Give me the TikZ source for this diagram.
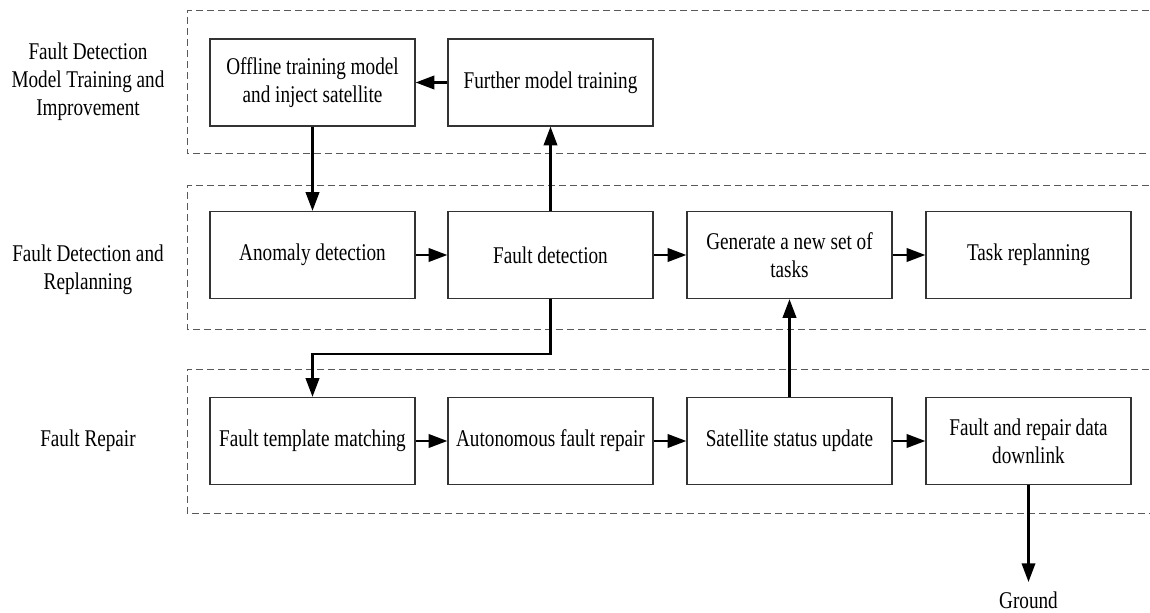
\documentclass[tikz,border=0pt]{standalone}
\usepackage{fontspec}
\setmainfont[FakeStretch=0.8]{Liberation Serif}
\usetikzlibrary{arrows.meta}

\tikzset{
  stage/.style={draw=black!80, line width=0.9pt, minimum width=153.75pt,
    minimum height=65.25pt, align=center, inner sep=2pt,
    font=\fontsize{18}{21}\selectfont},
  lane/.style={draw=black!65, line width=0.75pt, dash pattern=on 5.25pt off 3pt},
  lanelabel/.style={align=center, font=\fontsize{18}{21}\selectfont},
  arr/.style={line width=1.9pt, -{Triangle[length=14pt, width=10pt]}}
}

\begin{document}
\begin{tikzpicture}[x=0.75pt, y=-0.75pt]
  \useasboundingbox (0,0) rectangle (1150,613);

  % swim lanes (open at the right border)
  \draw[lane] (1160,11) -- (187,11) -- (187,154) -- (1160,154);
  \draw[lane] (1160,186) -- (187,186) -- (187,329) -- (1160,329);
  \draw[lane] (1160,369) -- (187,369) -- (187,513) -- (1160,513);

  % lane titles
  \node[lanelabel] (l1) at (88,82) {Fault Detection\\Model Training and\\Improvement};
  \node[lanelabel] (l2) at (88,270) {Fault Detection and\\Replanning};
  \node[lanelabel] (l3) at (88,441) {Fault Repair};

  % training lane
  \node[stage] (off) at (312.5,82.5) {Offline training model\\and inject satellite};
  \node[stage] (fur) at (550.5,82.5) {Further model training};

  % detection lane
  \node[stage] (ano) at (312.5,255) {Anomaly detection};
  \node[stage] (fd)  at (550.5,255) {Fault detection};
  \node[stage] (gen) at (789.5,255) {Generate a new set of\\tasks};
  \node[stage] (tr)  at (1028.5,255) {Task replanning};

  % repair lane
  \node[stage] (ftm) at (312.5,441) {Fault template matching};
  \node[stage] (afr) at (550.5,441) {Autonomous fault repair};
  \node[stage] (ssu) at (789.5,441) {Satellite status update};
  \node[stage] (fdl) at (1028.5,441) {Fault and repair data\\downlink};

  \node[anchor=north, inner xsep=2pt, inner ysep=7pt,
        font=\fontsize{18}{21}\selectfont] (gnd) at (1028.5,582) {Ground};

  % flow
  \draw[arr] (fur) -- (off);
  \draw[arr] (off) -- (ano);
  \draw[arr] (fd) -- (fur);
  \draw[arr] (ano) -- (fd);
  \draw[arr] (fd) -- (gen);
  \draw[arr] (gen) -- (tr);
  \draw[arr] (fd.south) -- ++(0,55) -| (ftm.north);
  \draw[arr] (ftm) -- (afr);
  \draw[arr] (afr) -- (ssu);
  \draw[arr] (ssu) -- (gen);
  \draw[arr] (ssu) -- (fdl);
  \draw[arr] (fdl) -- (gnd);
\end{tikzpicture}
\end{document}
